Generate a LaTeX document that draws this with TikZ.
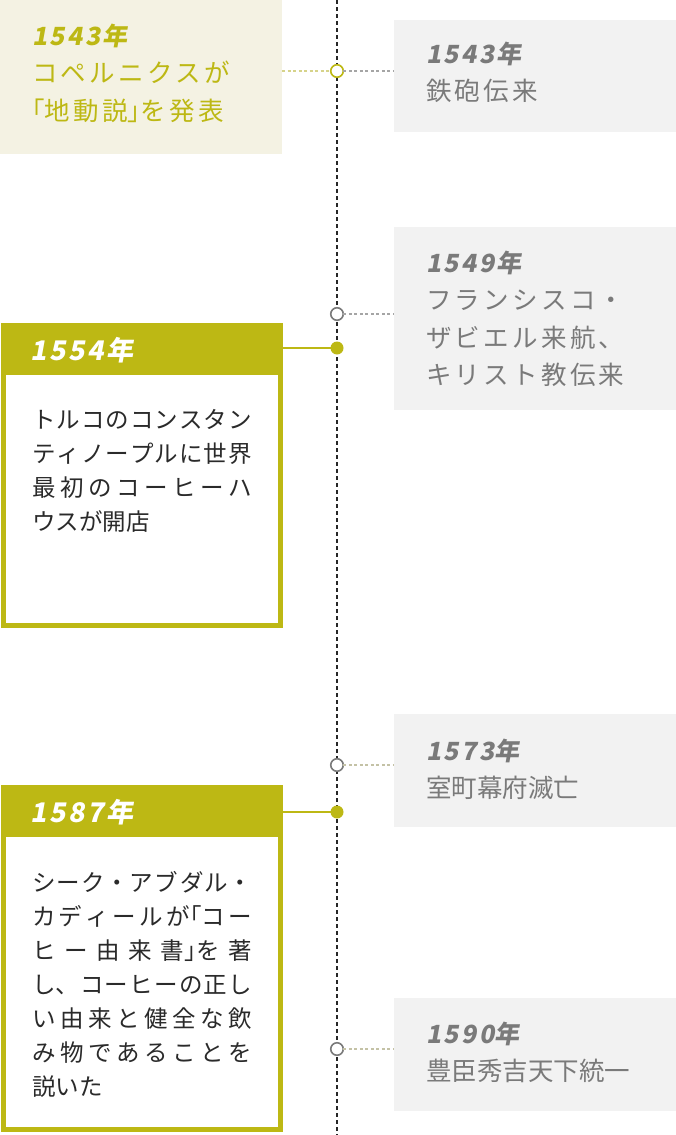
\documentclass[tikz,border=0pt]{standalone}
\usepackage{fontspec}
\usetikzlibrary{positioning}
\setmainfont{Noto Sans CJK JP}
\newfontfamily\notefont[LetterSpace=13]{Noto Sans CJK JP}
\newfontfamily\paltfont[RawFeature=+palt]{Noto Sans CJK JP}
\newfontfamily\yearfont[FakeSlant=0.18,LetterSpace=10]{Noto Sans CJK JP}
\newfontfamily\bodyfont{Noto Sans CJK JP}
\definecolor{olive}{HTML}{BDB814}
\definecolor{beige}{HTML}{F4F2E3}
\definecolor{panelgray}{HTML}{F2F2F2}
\definecolor{notegray}{HTML}{7A7A7A}
\definecolor{dotgray}{HTML}{7A7A7A}
\definecolor{leadgray}{HTML}{A5A5A5}
\definecolor{leadolive}{HTML}{D6D38A}
\definecolor{leadpale}{HTML}{C4C2A6}
\definecolor{ink}{HTML}{2A2A2A}
\newcommand\jpspread{\XeTeXlinebreaklocale "ja"\XeTeXlinebreakskip=0pt plus 20pt\relax}
\newcommand\yr[1]{{\yearfont\bfseries\fontsize{25}{37.5}\selectfont #1}}

\begin{document}
\begin{tikzpicture}[x=1pt,y=-1pt,
  every node/.style={inner sep=0pt, outer sep=0pt},
  panel/.style={fill=panelgray, minimum width=282pt, minimum height=113pt, anchor=north west},
  card/.style={draw=olive, line width=5pt, fill=white, minimum width=277pt, anchor=north west},
  cardhead/.style={fill=olive, minimum width=282pt, minimum height=52pt, anchor=north west},
  opendot/.style={circle, draw=dotgray, line width=1.6pt, fill=white, minimum size=12.5pt},
  fulldot/.style={circle, fill=olive, minimum size=13pt},
  yearmark/.style={anchor=base west, text=white, font=\yearfont\bfseries\fontsize{27}{30}\selectfont},
  note/.style={anchor=base west, text width=260pt, align=left, text=notegray, font=\notefont\fontsize{25.5}{37.5}\selectfont},
  story/.style={anchor=base west, text width=220pt, align=justify, text=ink, font=\bodyfont\fontsize{23.5}{34}\selectfont\jpspread},
  leader/.style={line width=1.3pt, dash pattern=on 3pt off 2.5pt},
]
\useasboundingbox (0,0) rectangle (676,1135);

% timeline
\coordinate (top) at (337,0);
\coordinate (bottom) at (337,1135);
\draw[black!85, line width=2.1pt, dash pattern=on 4pt off 3pt] (top) -- (bottom);

% 1543
\node[fill=beige, minimum width=282pt, minimum height=154pt, anchor=north west] (copernicus) at (0,0) {};
\node[note, text=olive] (copernicus text) at (32,45)
  {\yr{1543年}\\コペルニクスが\\{\paltfont 「}地動説{\paltfont 」}を発表};
\node[panel, minimum height=112pt] (guns) at (394,20) {};
\node[note] (guns text) at (426,63) {\yr{1543年}\\鉄砲伝来};
\node[opendot, draw=olive] (d1543) at (337,71) {};
\draw[leader, leadolive] (copernicus.east |- d1543) -- (d1543);
\draw[leader, leadgray] (d1543) -- (guns.west |- d1543);

% 1549
\node[panel, minimum height=183pt] (xavier) at (394,227) {};
\node[note] (xavier text) at (426,272)
  {\yr{1549年}\\フランシスコ・\\ザビエル来航、\\キリスト教伝来};
\node[opendot] (d1549) at (337,314) {};
\draw[leader, leadgray] (d1549) -- (xavier.west |- d1549);

% 1554
\node[card, minimum height=300pt] (card1554) at (3.5,325.5) {};
\node[cardhead] (head1554) at (1,323) {};
\node[yearmark] (year1554) at (30,360) {1554年};
\node[story] (story1554) at (32,428)
  {トルコのコンスタン\linebreak ティノープルに世界\linebreak 最初のコーヒーハ\linebreak ウスが開店};
\node[fulldot] (f1554) at (337,348) {};
\draw[olive, line width=1.6pt] (head1554.east |- f1554) -- (f1554);

% 1573
\node[panel] (muromachi) at (394,714) {};
\node[note] (muromachi text) at (426,760) {\yr{1573年}\\室町幕府滅亡};
\node[opendot] (d1573) at (337,765) {};
\draw[leader, leadpale] (d1573) -- (muromachi.west |- d1573);

% 1587
\node[card, minimum height=342pt] (card1587) at (3.5,787.5) {};
\node[cardhead] (head1587) at (1,785) {};
\node[yearmark] (year1587) at (30,822) {1587年};
\node[story] (story1587) at (32,891)
  {シーク・アブダル・\linebreak カディールが{\paltfont 「}コー\linebreak ヒー由来書{\paltfont 」}を著\linebreak し、コーヒーの正し\linebreak い由来と健全な飲\linebreak み物であることを\linebreak 説いた};
\node[fulldot] (f1587) at (337,812) {};
\draw[olive, line width=1.6pt] (head1587.east |- f1587) -- (f1587);

% 1590
\node[panel] (hideyoshi) at (394,998) {};
\node[note] (hideyoshi text) at (426,1043) {\yr{1590年}\\豊臣秀吉天下統一};
\node[opendot] (d1590) at (337,1049) {};
\draw[leader, leadpale] (d1590) -- (hideyoshi.west |- d1590);
\end{tikzpicture}
\end{document}
